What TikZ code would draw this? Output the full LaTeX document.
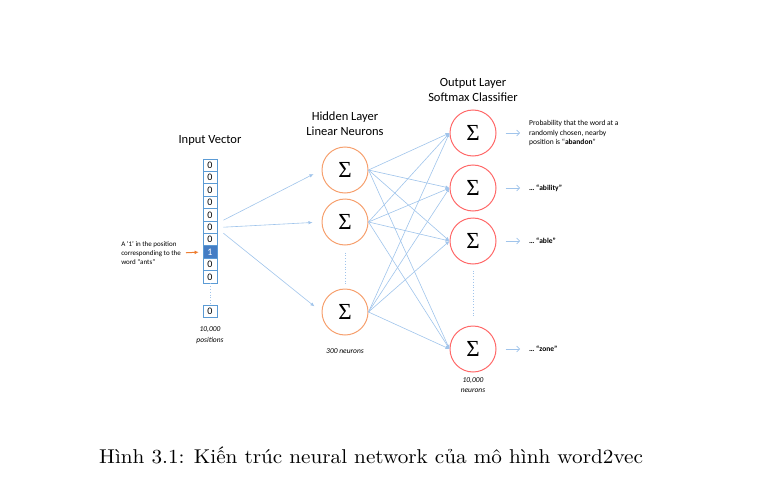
\documentclass[tikz,border=0pt]{standalone}
\usepackage{fontspec}
\newfontfamily\calibri{Carlito}
\newfontfamily\sigfont{Liberation Serif}
\newfontfamily\capfont{lmroman10-regular.otf}
\usetikzlibrary{arrows.meta,positioning}
\definecolor{cellblue}{RGB}{91,155,213}
\definecolor{cellfill}{RGB}{68,125,196}
\definecolor{linkblue}{RGB}{160,196,235}
\definecolor{hidorange}{RGB}{246,160,110}
\definecolor{outred}{RGB}{255,105,105}
\definecolor{notearrow}{RGB}{237,125,49}
\begin{document}
\begin{tikzpicture}[x=1pt,y=-1pt,
	cell/.style={draw=cellblue, line width=0.8pt, minimum width=14pt, minimum height=12.4pt, inner sep=0pt, font=\calibri\fontsize{10}{10}\selectfont},
	neuron/.style={circle, draw=hidorange, line width=1pt, minimum size=46pt, inner sep=0pt, font=\sigfont\fontsize{23}{23}\selectfont},
	outneuron/.style={neuron, draw=outred},
	link/.style={draw=linkblue, line width=0.6pt, -{Latex[length=4pt,width=3.5pt]}},
	outarrow/.style={draw=linkblue, line width=0.6pt, -{Straight Barb[length=3pt,width=6pt]}, shorten <=9pt, shorten >=9pt},
	dots/.style={draw=linkblue, line width=0.8pt, dotted},
	title/.style={font=\calibri\fontsize{12.5}{15}\selectfont, align=center},
	small/.style={font=\calibri\fontsize{7.5}{9.5}\selectfont, align=left, inner sep=0pt},
	count/.style={font=\calibri\itshape\fontsize{7.5}{10.5}\selectfont, align=center}]
	\useasboundingbox (0,0) rectangle (765,503);
	\def\cellh{12.4}
	
	% input vector
	\node[title] (tin) at (210,140) {Input Vector};
	\foreach \i in {1,...,7,9,10}
		\node[cell] (c\i) at (210,{159+\cellh*(\i-0.5)}) {0};
	\node[cell, fill=cellfill, text=white] (c8) at (210,{159+\cellh*7.5}) {1};
	\node[cell] (c0) at (210,311.5) {0};
	\draw[dots] (c10.south) -- (c0.north);
	\node[count] (npos) at (210,335) {10,000\\positions};
	\node[small, anchor=east, font=\calibri\fontsize{7}{9}\selectfont] (note) at (181,253) {A ‘1’ in the position\\corresponding to the\\word “ants”};
	\draw[notearrow, line width=1pt, -{Latex[length=4pt,width=4pt]}, shorten <=5pt, shorten >=4pt] (note.east) -- (c8.west);
	
	% hidden layer
	\node[title] (thid) at (345,124) {Hidden Layer\\Linear Neurons};
	\node[neuron] (h1) at (345,170) {Σ};
	\node[neuron] (h2) at (345,222) {Σ};
	\node[neuron] (h3) at (345,312) {Σ};
	\draw[dots, shorten <=7pt, shorten >=4pt] (h2.south) -- (h3.north);
	\node[count] (nhid) at (345,351) {300 neurons};
	\coordinate (in1) at ([shift={(6,-7)}]c6.east);
	\coordinate (in2) at ([xshift=6pt]c6.east);
	\coordinate (in3) at ([shift={(6,6)}]c6.east);
	\draw[link, shorten >=9pt] (in1) -- (h1.west);
	\draw[link, shorten >=9pt] (in2) -- (h2.west);
	\draw[link, shorten >=9pt] (in3) -- (h3.west);
	
	% output layer
	\node[title] (tout) at (473,90) {Output Layer\\Softmax Classifier};
	\node[outneuron] (o1) at (473,133) {Σ};
	\node[outneuron] (o2) at (473,188) {Σ};
	\node[outneuron] (o3) at (473,241) {Σ};
	\node[outneuron] (o4) at (473,349) {Σ};
	\draw[dots, shorten <=6pt, shorten >=9pt] (o3.south) -- (o4.north);
	\node[count] (nout) at (473,385) {10,000\\neurons};
	\foreach \h in {1,2,3}
		\foreach \o in {1,...,4}
			\draw[link] (h\h.east) -- (o\o.west);
	
	\node[small, anchor=west] (p1) at (529,133) {Probability that the word at a\\randomly chosen, nearby\\position is “\textbf{abandon}”};
	\node[small, anchor=west] (p2) at (529,188) {\textbf{… “ability”}};
	\node[small, anchor=west] (p3) at (529,241) {\textbf{… “able”}};
	\node[small, anchor=west] (p4) at (529,349) {\textbf{… “zone”}};
	\foreach \k in {1,...,4}
		\draw[outarrow] (o\k.east) -- (p\k.west);
	
	\node[font=\capfont\fontsize{20}{24}\selectfont, xscale=1.06, transform shape] (cap) at (371,455) {Hình 3.1: Kiến trúc neural network của mô hình word2vec};
\end{tikzpicture}
\end{document}
